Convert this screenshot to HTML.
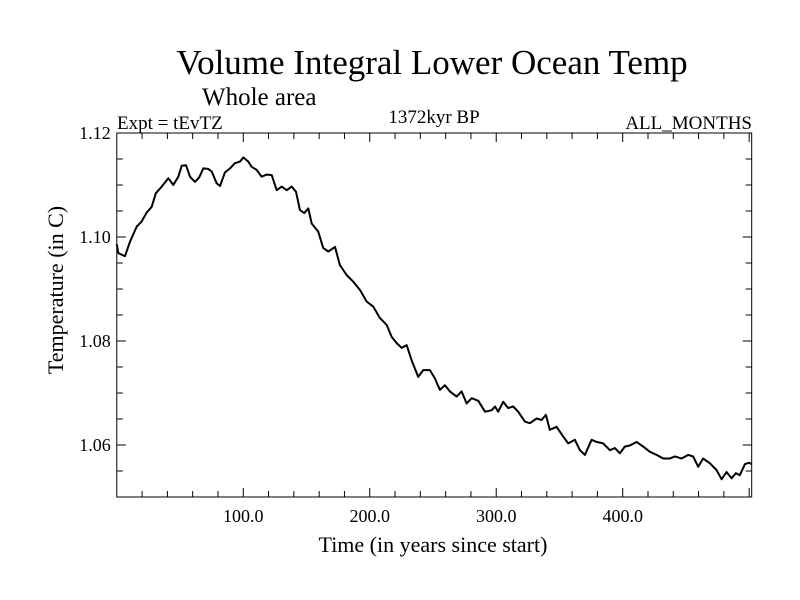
<!DOCTYPE html>
<html><head><meta charset="utf-8"><style>
body{margin:0;background:#fff}
svg{display:block}
text{font-family:"Liberation Serif",serif;fill:#000}
</style></head><body>
<svg id="c" width="800" height="600">
<text x="432" y="74" font-size="35" text-anchor="middle">Volume Integral Lower Ocean Temp</text>
<text x="202" y="105" font-size="25">Whole area</text>
<text x="117" y="129" font-size="19">Expt = tEvTZ</text>
<text x="434" y="123" font-size="19" text-anchor="middle">1372kyr BP</text>
<text x="752" y="129" font-size="19" text-anchor="end">ALL_MONTHS</text>
<text x="433" y="552" font-size="22" text-anchor="middle">Time (in years since start)</text>
<text transform="translate(63,290) rotate(-90)" font-size="22" text-anchor="middle">Temperature (in C)</text>
<g id="axes"></g>
<rect x="116.8" y="133" width="634.9" height="364" fill="none" stroke="#000" stroke-width="1"/>
<path id="line" fill="none" stroke="#000" stroke-width="2" stroke-linejoin="round"/>
</svg>
<script>
const years=[0,1.2,6.5,10.4,15.7,19.7,23.6,27.6,30.8,35.5,40.7,44.7,48.6,51.3,54.7,57.9,61.8,65.2,68.4,72.3,75,79,81.6,85.5,89.5,93.4,97.4,100,104,106.6,110.6,114.5,118.5,122.5,126.4,130.4,134.3,138.3,141.7,144.8,148.2,151.4,154.1,159.3,163.2,167.2,172.5,176.4,181.7,187,192.3,197.5,202.8,208.1,213.4,217.3,221.3,225.2,229.2,233.1,238.3,242.3,247.6,251.5,254.9,
255.5,259.4,263.4,268.7,272.6,276.6,280.6,285.8,291.1,296.4,299,301.6,305.5,309.5,313.4,317.4,322.7,326.6,331.9,335.9,339.3,342.4,347.7,353,356.9,362.2,366.2,370.1,375.4,379.4,384.6,389.9,393.8,397.8,401.7,405.7,411,416.2,421.5,426.8,432,437.3,441.3,446.6,451.8,455.7,459.7,463.6,468.9,474.2,478.2,482.1,486.1,489.5,492.6,496.6,500,501.9];
const temps=[1.0986,1.0969,1.0963,1.0991,1.102,1.103,1.1047,1.1058,1.1084,1.1097,1.1113,1.11,1.1116,1.1137,1.1138,1.1116,1.1106,1.1115,1.1132,1.1131,1.1126,1.1103,1.1098,1.1124,1.1132,1.1142,1.1145,1.1153,1.1145,1.1135,1.1129,1.1116,1.112,1.1119,1.109,1.1097,1.109,1.1097,1.1087,1.1052,1.1046,1.1055,1.1026,1.101,1.0979,1.0972,1.0981,1.0946,1.0927,1.0914,1.0898,1.0876,1.0866,1.0844,1.0831,1.0808,1.0796,1.0787,1.0792,1.0763,1.0731,1.0744,1.0744,1.0728,1.0709,
1.0706,1.0715,1.0703,1.0693,1.0703,1.068,1.069,1.0685,1.0664,1.0667,1.0674,1.0664,1.0683,1.0671,1.0674,1.0664,1.0645,1.0642,1.0651,1.0648,1.0658,1.0629,1.0635,1.0616,1.0603,1.061,1.059,1.0581,1.061,1.0606,1.0603,1.059,1.0594,1.0584,1.0597,1.0599,1.0606,1.0597,1.0587,1.0581,1.0574,1.0574,1.0578,1.0574,1.0581,1.0578,1.0558,1.0574,1.0565,1.0552,1.0534,1.0548,1.0536,1.0546,1.0542,1.0563,1.0566,1.0563];
const xTickLabels=["100.0","200.0","300.0","400.0"];
const xTickValues=[100,200,300,400];
const yTickLabels=["1.06","1.08","1.10","1.12"];
const yTickValues=[1.06,1.08,1.10,1.12];
const X0=116.8,X1=751.7,Y0=497,Y1=133,XMIN=0,XMAX=502,YMIN=1.05,YMAX=1.12;
const sx=v=>X0+(v-XMIN)/(XMAX-XMIN)*(X1-X0);
const sy=v=>Y0-(v-YMIN)/(YMAX-YMIN)*(Y0-Y1);
const NS="http://www.w3.org/2000/svg";
const g=document.getElementById('axes');
function ln(x1,y1,x2,y2,name){const l=document.createElementNS(NS,'line');
l.setAttribute('x1',x1);l.setAttribute('y1',y1);l.setAttribute('x2',x2);l.setAttribute('y2',y2);
l.setAttribute('stroke','#000');l.setAttribute('stroke-width','1');


g.appendChild(l);}
for(let v=20;v<XMAX;v+=20){const x=sx(v);const L=(v%100===0)?9:6;ln(x,Y0,x,Y0-L,'x-tick');ln(x,Y1,x,Y1+L,'x-tick');}
for(let i=1;i<14;i++){const v=YMIN+i*0.005;const y=sy(v);const L=(i%4===2)?9:6;ln(X0,y,X0+L,y,'y-tick');ln(X1,y,X1-L,y,'y-tick');}
xTickValues.forEach((v,i)=>{const t=document.createElementNS(NS,'text');
t.setAttribute('x',sx(v));t.setAttribute('y',Y0+25);t.setAttribute('font-size','18');t.setAttribute('text-anchor','middle');
t.textContent=xTickLabels[i];


g.appendChild(t);});
yTickValues.forEach((v,i)=>{const t=document.createElementNS(NS,'text');
t.setAttribute('x',X0-6);t.setAttribute('y',sy(v)+6);t.setAttribute('font-size','18');t.setAttribute('text-anchor','end');
t.textContent=yTickLabels[i];


g.appendChild(t);});
document.getElementById('line').setAttribute('d',years.map((y,i)=>(i?'L':'M')+sx(y).toFixed(1)+','+sy(temps[i]).toFixed(1)).join(''));
</script>
</body></html>
